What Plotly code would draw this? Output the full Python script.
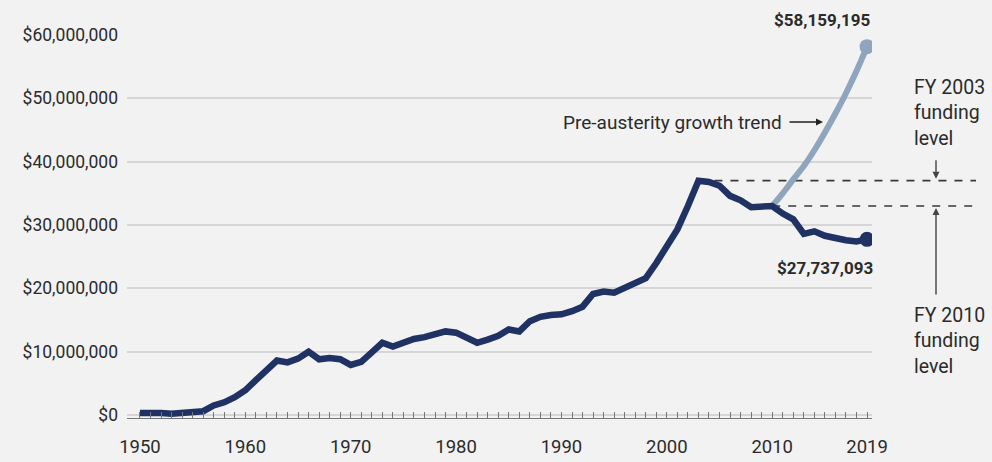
import plotly.graph_objects as go

# ---------------- data ----------------
years = list(range(1950, 2020))
funding_m = [
    0.3, 0.4, 0.3, 0.2, 0.3, 0.4, 0.6, 1.5, 2.0, 2.8,          # 1950-1959
    3.9, 5.5, 7.1, 8.6, 8.3, 8.9, 10.0, 8.8, 9.0, 8.8,         # 1960-1969
    7.9, 8.4, 9.9, 11.4, 10.8, 11.5, 12.0, 12.3, 12.8, 13.2,   # 1970-1979
    13.0, 12.3, 11.4, 11.9, 12.5, 13.5, 13.2, 14.8, 15.5, 15.8,# 1980-1989
    15.9, 16.4, 17.1, 19.1, 19.5, 19.3, 20.0, 20.8, 21.6, 24.0,# 1990-1999
    26.5, 29.3, 33.0, 37.0, 36.8, 36.2, 34.6, 33.9, 32.8, 32.9,# 2000-2009
    33.0, 31.8, 30.9, 28.6, 29.0, 28.3, 27.9, 27.6, 27.4, 27.737093,  # 2010-2019
]
funding = [v * 1e6 for v in funding_m]

trend_years = list(range(2010, 2020))
trend_m = [33.0, 35.0, 37.2, 39.3, 41.8, 44.6, 47.6, 50.8, 54.3, 58.159195]
trend = [v * 1e6 for v in trend_m]

label_years = [1950, 1960, 1970, 1980, 1990, 2000, 2010, 2019]
y_ticks = [0, 10e6, 20e6, 30e6, 40e6, 50e6, 60e6]
y_tick_labels = ["$0", "$10,000,000", "$20,000,000", "$30,000,000",
                 "$40,000,000", "$50,000,000", "$60,000,000"]

fy2003_year = 2003
fy2010_year = 2010

# ---------------- style ----------------
DARK = "#1f3263"
LIGHT = "#8fa4bd"
BG = "#f2f2f2"
FONT = "Roboto"
TXT = "#2b2b2b"
W, H = 992, 462
ML, MR, MT, MB = 127, 120, 35, 44
PW, PH = W - ML - MR, H - MT - MB

X_RANGE = [1948.77, 2019.47]
Y_RANGE = [-0.474e6, 60e6]

def xp(year):  # data -> paper
    return (year - X_RANGE[0]) / (X_RANGE[1] - X_RANGE[0])

def yp(val):
    return (val - Y_RANGE[0]) / (Y_RANGE[1] - Y_RANGE[0])

def px_x(pix):  # pixel -> paper
    return (pix - ML) / PW

def px_y(pix):
    return (H - MB - pix) / PH

fig = go.Figure()

fig.add_trace(go.Scatter(
    x=trend_years, y=trend, mode="lines",
    line=dict(color=LIGHT, width=6, shape="spline", smoothing=0.6),
    hoverinfo="skip", showlegend=False))
fig.add_trace(go.Scatter(
    x=[trend_years[-1]], y=[trend[-1]], mode="markers",
    marker=dict(color=LIGHT, size=15), hoverinfo="skip", showlegend=False))
fig.add_trace(go.Scatter(
    x=years, y=funding, mode="lines",
    line=dict(color=DARK, width=6.5),
    hoverinfo="skip", showlegend=False))
fig.add_trace(go.Scatter(
    x=[years[-1]], y=[funding[-1]], mode="markers",
    marker=dict(color=DARK, size=15), hoverinfo="skip", showlegend=False))

# dashed reference levels
v2003 = funding[years.index(fy2003_year)]
v2010 = funding[years.index(fy2010_year)]
for yr, val in [(fy2003_year, v2003), (fy2010_year, v2010)]:
    fig.add_shape(type="line", xref="paper", yref="paper",
                  x0=xp(yr), x1=px_x(976), y0=yp(val), y1=yp(val),
                  line=dict(color="#3a3a3a", width=1.6, dash="8px,8px"),
                  layer="below")

ann = []
ann.append(dict(xref="paper", yref="paper", x=px_x(872), y=px_y(20),
                xanchor="right", yanchor="middle", showarrow=False,
                text="<b>$58,159,195</b>", font=dict(size=17, color=TXT, family=FONT)))
ann.append(dict(xref="paper", yref="paper", x=px_x(875), y=px_y(268),
                xanchor="right", yanchor="middle", showarrow=False,
                text="<b>$27,737,093</b>", font=dict(size=17, color=TXT, family=FONT)))
ann.append(dict(xref="paper", yref="paper", x=px_x(784), y=px_y(122),
                xanchor="right", yanchor="middle", showarrow=False,
                text="Pre-austerity growth trend", font=dict(size=19, color=TXT, family=FONT)))
ann.append(dict(xref="paper", yref="paper", x=px_x(823), y=px_y(122),
                ax=-35, ay=0, showarrow=True, text="",
                arrowhead=2, arrowsize=1, arrowwidth=1.4, arrowcolor="#222"))
ann.append(dict(xref="paper", yref="paper", x=px_x(912), y=px_y(113),
                xanchor="left", yanchor="middle", align="left", showarrow=False,
                text="FY 2003<br>funding<br>level", font=dict(size=19.5, color=TXT, family=FONT)))
ann.append(dict(xref="paper", yref="paper", x=px_x(912), y=px_y(341),
                xanchor="left", yanchor="middle", align="left", showarrow=False,
                text="FY 2010<br>funding<br>level", font=dict(size=19.5, color=TXT, family=FONT)))
ann.append(dict(xref="paper", yref="paper", x=px_x(936), y=yp(v2003) + 2 / PH,
                ax=0, ay=-20, showarrow=True, text="",
                arrowhead=2, arrowsize=1, arrowwidth=1.4, arrowcolor="#444"))
ann.append(dict(xref="paper", yref="paper", x=px_x(936), y=yp(v2010) - 2 / PH,
                ax=0, ay=88, showarrow=True, text="",
                arrowhead=2, arrowsize=1, arrowwidth=1.4, arrowcolor="#444"))

fig.update_layout(
    width=W, height=H,
    margin=dict(l=ML, r=MR, t=MT, b=MB),
    paper_bgcolor=BG, plot_bgcolor=BG,
    font=dict(family=FONT, color=TXT, size=16),
    annotations=ann,
    showlegend=False,
)
fig.update_xaxes(
    range=X_RANGE, tickmode="array", tickvals=years,
    ticktext=[str(y) if y in label_years else "" for y in years],
    ticks="inside", ticklen=6, tickwidth=1, tickcolor="#777",
    showline=True, linecolor="#777", linewidth=1, automargin=False,
    showgrid=False, zeroline=False, ticklabelstandoff=12,
    tickfont=dict(size=18.5, color=TXT, family=FONT),
)
fig.update_yaxes(
    range=Y_RANGE, tickmode="array", tickvals=y_ticks, ticktext=y_tick_labels,
    showgrid=True, gridcolor="#d6d6d6", gridwidth=1.5, automargin=False,
    zeroline=False, showline=False, ticks="", ticklabelstandoff=8,
    tickfont=dict(size=17.5, color=TXT, family=FONT),
)

fig.write_html("out.html")
